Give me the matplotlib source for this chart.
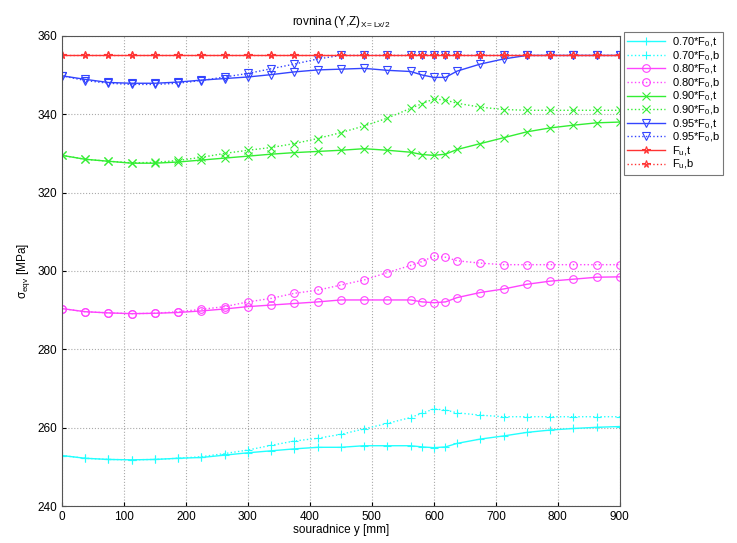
import matplotlib
matplotlib.use("Agg")
import matplotlib.pyplot as plt

# positions along y [mm]
y_mm = [0, 37.5, 75, 112.5, 150, 187.5, 225, 262.5, 300, 337.5, 375, 412.5,
        450, 487.5, 525, 562.5, 581.25, 600, 618.75, 637.5, 675, 712.5, 750,
        787.5, 825, 862.5, 900]

s070_t = [252.9, 252.2, 251.9, 251.8, 251.9, 252.2, 252.4, 253.0, 253.6, 254.1, 254.6, 255.0,
          255.0, 255.4, 255.4, 255.4, 255.1, 254.9, 255.1, 256.0, 257.1, 257.9, 258.8,
          259.4, 259.8, 260.1, 260.3]
s070_b = [252.9, 252.2, 251.9, 251.8, 251.9, 252.2, 252.6, 253.4, 254.3, 255.5, 256.6, 257.3,
          258.3, 259.7, 261.1, 262.6, 263.7, 264.8, 264.5, 263.8, 263.2, 262.8, 262.8,
          262.8, 262.8, 262.8, 262.8]
s080_t = [290.4, 289.6, 289.3, 289.1, 289.2, 289.4, 289.8, 290.3, 290.9, 291.3, 291.7, 292.1,
          292.6, 292.6, 292.6, 292.6, 292.1, 291.9, 292.1, 293.2, 294.5, 295.4, 296.6,
          297.4, 297.9, 298.4, 298.5]
s080_b = [290.4, 289.6, 289.3, 289.1, 289.2, 289.6, 290.2, 290.9, 292.1, 293.0, 294.3, 295.1,
          296.4, 297.7, 299.6, 301.4, 302.4, 303.8, 303.5, 302.6, 302.0, 301.6, 301.6,
          301.6, 301.6, 301.6, 301.6]
s090_t = [329.5, 328.5, 328.0, 327.5, 327.5, 327.8, 328.3, 328.8, 329.3, 329.8, 330.2, 330.5,
          330.8, 331.2, 330.8, 330.3, 329.7, 329.5, 329.8, 331.0, 332.5, 334.0, 335.5,
          336.5, 337.2, 337.8, 338.0]
s090_b = [329.5, 328.5, 328.0, 327.6, 327.7, 328.2, 329.0, 330.0, 330.8, 331.5, 332.5, 333.8,
          335.3, 337.0, 339.0, 341.5, 342.7, 343.9, 343.6, 342.8, 341.8, 341.2, 341.0,
          341.0, 341.0, 341.0, 341.0]
s095_t = [349.8, 348.9, 348.1, 347.9, 347.9, 348.2, 348.7, 349.1, 349.5, 350.1, 350.8, 351.3,
          351.5, 351.7, 351.2, 350.9, 350.0, 349.4, 349.4, 351.0, 352.8, 354.1, 355.0,
          355.0, 355.0, 355.0, 355.0]
s095_b = [349.8, 348.6, 347.9, 347.6, 347.6, 347.9, 348.6, 349.5, 350.4, 351.6, 352.8, 354.1,
          355.0, 355.0, 355.0, 355.0, 355.0, 355.0, 355.0, 355.0, 355.0, 355.0, 355.0,
          355.0, 355.0, 355.0, 355.0]
fu_t = [355.0] * 27
fu_b = [355.0] * 27

labels = ["0.70*F$_{0}$,t", "0.70*F$_{0}$,b", "0.80*F$_{0}$,t", "0.80*F$_{0}$,b",
          "0.90*F$_{0}$,t", "0.90*F$_{0}$,b", "0.95*F$_{0}$,t", "0.95*F$_{0}$,b",
          "F$_{u}$,t", "F$_{u}$,b"]
x_ticks = [0, 100, 200, 300, 400, 500, 600, 700, 800, 900]
y_ticks = [240, 260, 280, 300, 320, 340, 360]

plt.rcParams['font.family'] = ['Liberation Sans', 'DejaVu Sans']
plt.rcParams['mathtext.fontset'] = 'custom'
plt.rcParams['mathtext.rm'] = 'Liberation Sans'
plt.rcParams['mathtext.it'] = 'Liberation Sans'

fig = plt.figure(figsize=(7.37, 5.43), dpi=100)
ax = fig.add_axes([0.084, 0.068, 0.757, 0.866])

series = [
    (s070_t, '#22ffff', '+', '-'),
    (s070_b, '#22ffff', '+', ':'),
    (s080_t, '#ff44ff', 'o', '-'),
    (s080_b, '#ff44ff', 'o', ':'),
    (s090_t, '#33ee33', 'x', '-'),
    (s090_b, '#33ee33', 'x', ':'),
    (s095_t, '#3344ff', 'v', '-'),
    (s095_b, '#3344ff', 'v', ':'),
    (fu_t, '#ff3333', '*', '-'),
    (fu_b, '#ff3333', '*', ':'),
]
for (vals, col, mk, ls), lab in zip(series, labels):
    ax.plot(y_mm, vals, color=col, marker=mk, linestyle=ls, linewidth=1.0,
            markersize=5.5, markerfacecolor='none', markeredgecolor=col,
            markeredgewidth=0.8, label=lab)

ax.set_xlim(0, 900)
ax.set_ylim(240, 360)
ax.set_xticks(x_ticks)
ax.set_yticks(y_ticks)
ax.tick_params(labelsize=8.5, direction='in', length=3)
ax.grid(True, linestyle=':', color='#aaaaaa', linewidth=0.8)
for s in ax.spines.values():
    s.set_color('#555555')

ax.set_title("rovnina (Y,Z)$_{X=Lx/2}$", fontsize=8.5, pad=8)
ax.set_xlabel("souradnice y [mm]", fontsize=8.5, labelpad=1)
ax.set_ylabel("σ$_{eqv}$ [MPa]", fontsize=8.5, labelpad=4)

leg = fig.legend(loc='upper left', bbox_to_anchor=(624 / 737, 1 - 32 / 543),
                 fontsize=8, frameon=True, fancybox=False, edgecolor='#555555',
                 handlelength=3.4, labelspacing=0.0, borderpad=0.3,
                 handletextpad=0.6, borderaxespad=0)
leg.get_frame().set_linewidth(0.8)

fig.savefig("out.png", dpi=100)
